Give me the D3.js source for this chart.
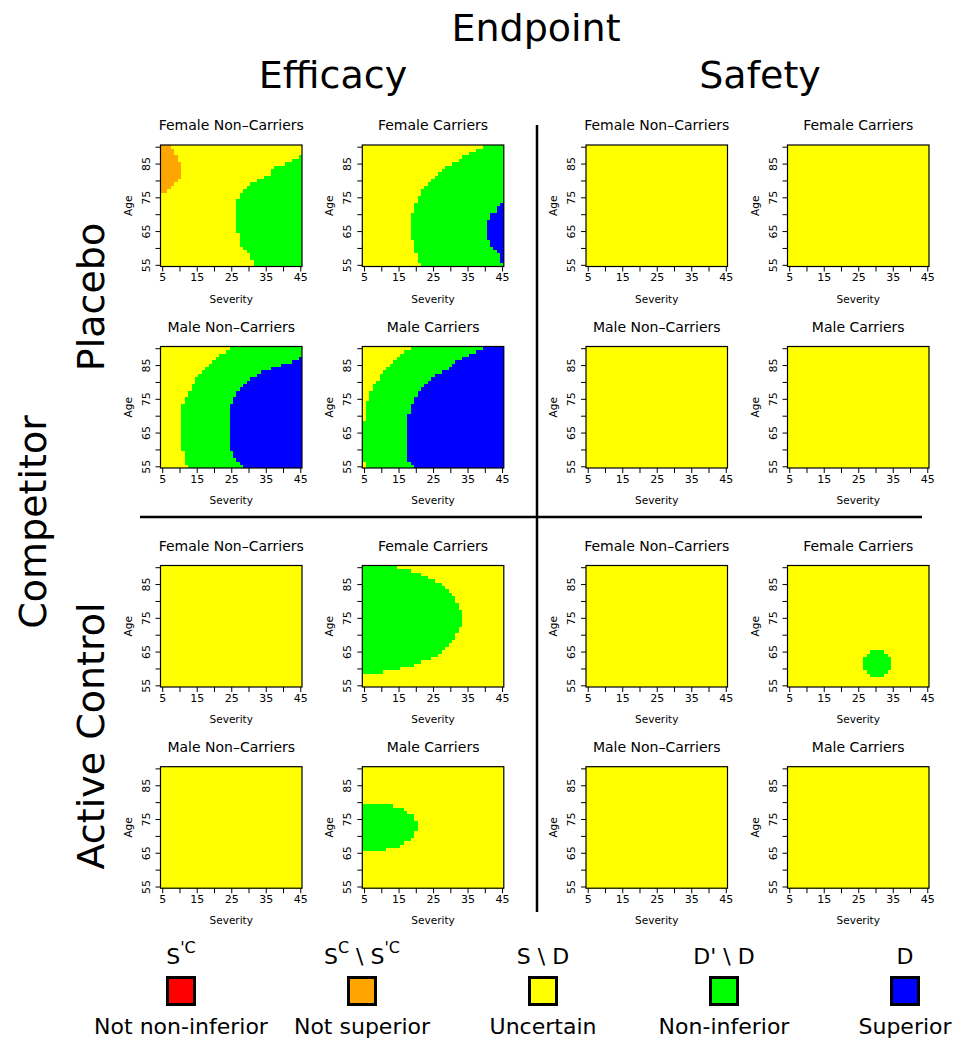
<!DOCTYPE html>
<html>
<head>
<meta charset="utf-8">
<script src="https://cdn.jsdelivr.net/npm/d3@7"></script>
<style>
  body { margin: 0; background: #fff; }
  svg text { font-family: "DejaVu Sans", sans-serif; fill: #000; }
</style>
</head>
<body>
<svg id="chart" width="956" height="1042"></svg>
<script>
//Grid of the heat maps
const severities = d3.range(5, 46);
const ages = d3.range(55, 91);
const sevTicks = [5, 10, 15, 20, 25, 30, 35, 40, 45];
const sevTickLabels = [5, 15, 25, 35, 45];
const ageTicks = [55, 60, 65, 70, 75, 80, 85, 90];
const ageTickLabels = [55, 65, 75, 85];

//Classes (legend order)
const classKeys = ["notNonInferior", "notSuperior", "uncertain", "nonInferior", "superior"];
const classColors = ["#FF0000", "#FFA500", "#FFFF00", "#00FF00", "#0000FF"];
const legendTop = ["S^{'C}", "S^{C} \\ S^{'C}", "S \\ D", "D' \\ D", "D"];
const legendBottom = ["Not non-inferior", "Not superior", "Uncertain", "Non-inferior", "Superior"];

const endpoints = ["Efficacy", "Safety"];
const competitors = ["Placebo", "Active Control"];
const subgroups = ["Female Non\u2013Carriers", "Female Carriers", "Male Non\u2013Carriers", "Male Carriers"];

//Region borders read per age row (first value belongs to the start age given in the comment)
//Placebo / Efficacy / Female Non-Carriers
const pEffFNOrangeTo = [6, 7, 8, 9, 10, 10, 10, 10, 10, 9, 9, 8, 8, 7];          //ages 77-90
const pEffFNGreenFrom = [32, 32, 31, 31, 30, 29, 28, 28, 28, 28,
                         27, 27, 27, 27, 27, 27, 27, 27, 27, 27,
                         28, 28, 29, 30, 31, 33, 35, 37, 37, 38, 41, 43, 45];  //ages 55-87
//Placebo / Efficacy / Female Carriers
const pEffFCGreenFrom = [22, 21, 21, 21, 20, 20, 20, 20, 19, 19,
                         19, 19, 19, 19, 19, 19, 20, 20, 20, 21,
                         21, 22, 22, 23, 24, 25, 26, 27, 28, 29,
                         31, 33, 34, 36, 38, 40];                                //ages 55-90
const pEffFCBlueFrom = [45, 45, 45, 44, 43, 42, 42, 41, 41, 41, 41, 41, 41, 42, 42, 44, 44, 45]; //ages 56-73
//Placebo / Efficacy / Male Non-Carriers
const pEffMNGreenFrom = [13, 12, 12, 12, 12, 11, 11, 11, 11, 11,
                         11, 11, 11, 11, 11, 11, 11, 11, 11, 12,
                         12, 13, 13, 14, 14, 15, 15, 16, 17, 18,
                         19, 20, 21, 22, 24, 25];                                //ages 55-90
const pEffMNBlueFrom = [29, 28, 27, 26, 26, 25, 25, 25, 25, 25,
                        25, 25, 25, 25, 25, 25, 25, 25, 25, 26,
                        26, 27, 27, 28, 29, 30, 31, 33, 34, 37,
                        40, 43, 45];                                             //ages 55-87
//Placebo / Efficacy / Male Carriers
const pEffMCYellowLow = [5, 5];                                                  //ages 55-56
const pEffMCYellowTo = [5, 5, 5, 5, 5, 5, 6, 6, 6, 7, 7, 8, 9, 9, 10, 11, 12, 13, 14, 15, 16, 18]; //ages 69-90
const pEffMCBlueFrom = [20, 19, 18, 18, 18, 18, 18, 18, 18, 18,
                        18, 18, 18, 18, 18, 18, 19, 19, 19, 20,
                        20, 21, 21, 22, 23, 24, 25, 26, 28, 30,
                        31, 32, 34, 36, 38, 40];                                 //ages 55-90
//Active Control / Efficacy / Female Carriers
const aEffFCGreenTo = [10, 15, 19, 21, 24, 26, 27, 28, 29, 30,
                       31, 31, 32, 32, 33, 33, 33, 33, 33, 32,
                       32, 31, 31, 30, 29, 28, 27, 25, 23, 21, 18, 14];          //ages 59-90
//Active Control / Efficacy / Male Carriers
const aEffMCGreenTo = [11, 15, 16, 18, 19, 19, 20, 20, 20, 19, 19, 17, 16, 13]; //ages 66-79
//Active Control / Safety / Female Carriers
const aSafFCGreenFrom = [29, 28, 27, 27, 27, 27, 28, 29];                        //ages 58-65
const aSafFCGreenTo = [32, 33, 34, 34, 34, 34, 33, 32];                          //ages 58-65

//Panel definitions: competitor row, endpoint column, subgroup
const panels = [
  {comp: 0, end: 0, sub: 0, base: "uncertain", layers: [
    {cls: "notSuperior", start: 77, lo: 5, hi: pEffFNOrangeTo},
    {cls: "nonInferior", start: 55, lo: pEffFNGreenFrom, hi: 45}]},
  {comp: 0, end: 0, sub: 1, base: "uncertain", layers: [
    {cls: "nonInferior", start: 55, lo: pEffFCGreenFrom, hi: 45},
    {cls: "superior", start: 56, lo: pEffFCBlueFrom, hi: 45}]},
  {comp: 0, end: 0, sub: 2, base: "uncertain", layers: [
    {cls: "nonInferior", start: 55, lo: pEffMNGreenFrom, hi: 45},
    {cls: "superior", start: 55, lo: pEffMNBlueFrom, hi: 45}]},
  {comp: 0, end: 0, sub: 3, base: "nonInferior", layers: [
    {cls: "uncertain", start: 55, lo: 5, hi: pEffMCYellowLow},
    {cls: "uncertain", start: 69, lo: 5, hi: pEffMCYellowTo},
    {cls: "superior", start: 55, lo: pEffMCBlueFrom, hi: 45}]},
  {comp: 0, end: 1, sub: 0, base: "uncertain", layers: []},
  {comp: 0, end: 1, sub: 1, base: "uncertain", layers: []},
  {comp: 0, end: 1, sub: 2, base: "uncertain", layers: []},
  {comp: 0, end: 1, sub: 3, base: "uncertain", layers: []},
  {comp: 1, end: 0, sub: 0, base: "uncertain", layers: []},
  {comp: 1, end: 0, sub: 1, base: "uncertain", layers: [
    {cls: "nonInferior", start: 59, lo: 5, hi: aEffFCGreenTo}]},
  {comp: 1, end: 0, sub: 2, base: "uncertain", layers: []},
  {comp: 1, end: 0, sub: 3, base: "uncertain", layers: [
    {cls: "nonInferior", start: 66, lo: 5, hi: aEffMCGreenTo}]},
  {comp: 1, end: 1, sub: 0, base: "uncertain", layers: []},
  {comp: 1, end: 1, sub: 1, base: "uncertain", layers: [
    {cls: "nonInferior", start: 58, lo: aSafFCGreenFrom, hi: aSafFCGreenTo}]},
  {comp: 1, end: 1, sub: 2, base: "uncertain", layers: []},
  {comp: 1, end: 1, sub: 3, base: "uncertain", layers: []}
];

//Layout (px)
const colX = [160.5, 362.3, 586, 787.5];
const rowY = [145, 346.5, 565.5, 766.7];
const plotW = 141.5;
const plotH = 121.5;
const endpointCenters = [333, 760];
const competitorCenters = [297, 736];

const color = d3.scaleOrdinal().domain(classKeys).range(classColors);
const svg = d3.select("#chart");

//Class of one cell
function cellClass(panel, age, sev) {
  let cls = panel.base;
  panel.layers.forEach((layer) => {
    const pick = (v) => Array.isArray(v) ? v[age - layer.start] : v;
    if (age < layer.start) return;
    const lo = pick(layer.lo), hi = pick(layer.hi);
    if (lo === undefined || hi === undefined) return;
    if (sev >= lo && sev <= hi) cls = layer.cls;
  });
  return cls;
}

//Merge equal neighbours of a row into runs
function rowRuns(panel, age) {
  const runs = [];
  severities.forEach((s) => {
    const c = cellClass(panel, age, s);
    const last = runs[runs.length - 1];
    if (last && last.cls === c) last.to = s;
    else runs.push({age: age, from: s, to: s, cls: c});
  });
  return runs;
}

panels.forEach((panel) => {
  const gridRow = panel.comp * 2 + Math.floor(panel.sub / 2);
  const gridCol = panel.end * 2 + panel.sub % 2;
  const x0 = colX[gridCol], y0 = rowY[gridRow];

  const xScale = d3.scaleLinear().domain([4.5, 45.5]).range([x0, x0 + plotW]);
  const yScale = d3.scaleLinear().domain([54.5, 90.5]).range([y0 + plotH, y0]);

  const g = svg.append("g").attr("class", "panel");

  const runs = ages.flatMap((a) => rowRuns(panel, a));
  g.append("g")
    .selectAll("rect")
    .data(runs)
    .enter()
    .append("rect")
    .attr("x", (d) => xScale(d.from - 0.5))
    .attr("y", (d) => yScale(d.age + 0.5))
    .attr("width", (d) => xScale(d.to + 0.5) - xScale(d.from - 0.5) + 0.3)
    .attr("height", (d) => yScale(d.age - 0.5) - yScale(d.age + 0.5) + 0.3)
    .attr("fill", (d) => color(d.cls))
    .attr("shape-rendering", "crispEdges");

  //frame
  g.append("rect")
    .attr("x", x0).attr("y", y0)
    .attr("width", plotW).attr("height", plotH)
    .attr("fill", "none").attr("stroke", "#000").attr("stroke-width", 1.2);

  //x-axis
  const xAxis = g.append("g")
    .attr("transform", `translate(0, ${y0 + plotH})`)
    .call(d3.axisBottom(xScale).tickValues(sevTicks).tickSize(5).tickPadding(2)
      .tickFormat((d) => sevTickLabels.includes(d) ? d : ""));
  xAxis.select(".domain").remove();
  xAxis.selectAll("text").filter((d) => !sevTickLabels.includes(d)).remove();
  xAxis.selectAll("text").style("font-size", "11px").attr("font-family", "DejaVu Sans");

  //y-axis, labels turned like the reference
  const yAxis = g.append("g")
    .attr("transform", `translate(${x0}, 0)`)
    .call(d3.axisLeft(yScale).tickValues(ageTicks).tickSize(5)
      .tickFormat((d) => ageTickLabels.includes(d) ? d : ""));
  yAxis.select(".domain").remove();
  yAxis.selectAll("text").filter((d) => !ageTickLabels.includes(d)).remove();
  yAxis.selectAll("text")
    .attr("x", null).attr("dy", null)
    .attr("transform", "translate(-11, 0) rotate(-90)")
    .attr("text-anchor", "middle")
    .style("font-size", "11px").attr("font-family", "DejaVu Sans");

  g.append("text")
    .attr("x", x0 + plotW / 2).attr("y", y0 - 15)
    .attr("text-anchor", "middle").style("font-size", "14px")
    .text(subgroups[panel.sub]);
  g.append("text")
    .attr("x", x0 + plotW / 2).attr("y", y0 + plotH + 36)
    .attr("text-anchor", "middle").style("font-size", "10.5px")
    .text("Severity");
  g.append("text")
    .attr("transform", `translate(${x0 - 29}, ${y0 + plotH / 2}) rotate(-90)`)
    .attr("text-anchor", "middle").style("font-size", "10.5px")
    .text("Age");
});

//Outer titles
svg.append("text").attr("x", 536).attr("y", 41).attr("text-anchor", "middle")
  .style("font-size", "38px").text("Endpoint");
endpoints.forEach((e, i) => {
  svg.append("text").attr("x", endpointCenters[i]).attr("y", 88).attr("text-anchor", "middle")
    .style("font-size", "38px").text(e);
});
svg.append("text").attr("transform", "translate(46, 522) rotate(-90)")
  .attr("text-anchor", "middle").style("font-size", "38px").text("Competitor");
competitors.forEach((c, i) => {
  svg.append("text").attr("transform", `translate(104, ${competitorCenters[i]}) rotate(-90)`)
    .attr("text-anchor", "middle").style("font-size", "38px").text(c);
});

//Divider lines
svg.append("line").attr("x1", 537).attr("x2", 537).attr("y1", 125).attr("y2", 912)
  .attr("stroke", "#000").attr("stroke-width", 2.5);
svg.append("line").attr("x1", 140).attr("x2", 922).attr("y1", 517).attr("y2", 517)
  .attr("stroke", "#000").attr("stroke-width", 2.5);

//Legend
const legendX = d3.scalePoint().domain(classKeys).range([181, 905]);
const legend = svg.append("g").selectAll("g")
  .data(classKeys)
  .enter()
  .append("g")
  .attr("transform", (d) => `translate(${legendX(d)}, 0)`);

legend.append("rect")
  .attr("x", -13.5).attr("y", 977.5).attr("width", 27).attr("height", 27)
  .attr("fill", (d) => color(d)).attr("stroke", "#000").attr("stroke-width", 3);

legend.append("text")
  .attr("y", 964).attr("text-anchor", "middle").style("font-size", "22px")
  .each(function(d, i) {
    const t = d3.select(this);
    let raised = false;
    //split "^{...}" into raised parts
    legendTop[i].split(/(\^\{[^}]*\})/).filter((p) => p.length).forEach((part) => {
      if (part.startsWith("^{")) {
        t.append("tspan").attr("dy", -11).style("font-size", "16px").text(part.slice(2, -1));
        raised = true;
      } else {
        t.append("tspan").attr("dy", raised ? 11 : 0).text(part);
        raised = false;
      }
    });
  });

legend.append("text")
  .attr("y", 1034).attr("text-anchor", "middle").style("font-size", "22px")
  .text((d, i) => legendBottom[i]);
</script>
</body>
</html>
